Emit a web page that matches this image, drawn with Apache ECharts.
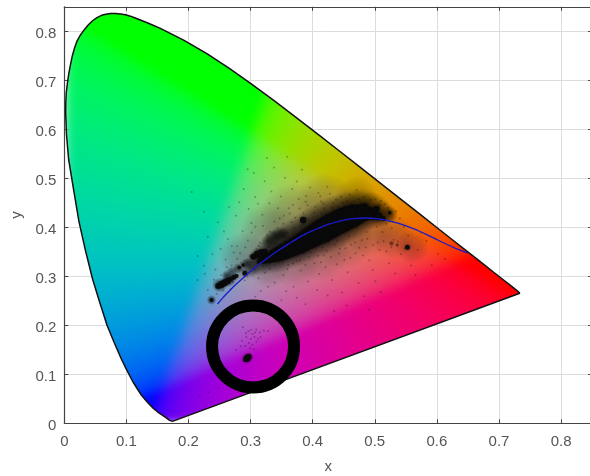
<!DOCTYPE html>
<html>
<head>
<meta charset="utf-8">
<style>
html,body{margin:0;padding:0;background:#fff;overflow:hidden}
#chart{width:590px;height:476px;filter:blur(0.55px)}
</style>
<script src="https://cdn.jsdelivr.net/npm/echarts@6/dist/echarts.min.js"></script>
</head>
<body>
<div id="chart"></div>
<script>
var axisTicks = [0,0.1,0.2,0.3,0.4,0.5,0.6,0.7,0.8];

// spectral locus, closed by the purple line
var locus = [[0.1741,0.0040],[0.1733,0.0038],[0.1714,0.0041],[0.1689,0.0065],[0.1644,0.0109],[0.1566,0.0177],[0.1500,0.0235],[0.1440,0.0297],[0.1345,0.0420],[0.1241,0.0578],[0.1170,0.0715],[0.1096,0.0868],[0.1005,0.1090],[0.0913,0.1327],[0.0800,0.1660],[0.0687,0.2007],[0.0570,0.2470],[0.0454,0.2950],[0.0340,0.3530],[0.0235,0.4127],[0.0150,0.4770],[0.0070,0.5384],[0.0035,0.5900],[0.0022,0.6350],[0.0024,0.6548],[0.0031,0.6737],[0.0050,0.6936],[0.0073,0.7140],[0.0100,0.7320],[0.0130,0.7502],[0.0165,0.7658],[0.0205,0.7800],[0.0258,0.7920],[0.0322,0.8033],[0.0385,0.8130],[0.0455,0.8215],[0.0526,0.8280],[0.0600,0.8326],[0.0672,0.8350],[0.0743,0.8362],[0.0822,0.8364],[0.0903,0.8355],[0.0984,0.8337],[0.1065,0.8309],[0.1142,0.8272],[0.1345,0.8170],[0.1547,0.8059],[0.1929,0.7816],[0.2296,0.7543],[0.2658,0.7243],[0.3016,0.6923],[0.3373,0.6589],[0.3731,0.6245],[0.4087,0.5896],[0.4441,0.5547],[0.4788,0.5202],[0.5125,0.4866],[0.5448,0.4544],[0.5752,0.4242],[0.6029,0.3965],[0.6270,0.3725],[0.6482,0.3514],[0.6658,0.3340],[0.6915,0.3083],[0.7079,0.2920],[0.7190,0.2809],[0.7260,0.2740],[0.7300,0.2700],[0.7335,0.2655],[0.1741,0.0040]];

// blue curve
var planckian = [[0.2468,0.2435],[0.2560,0.2570],[0.2680,0.2730],[0.2807,0.2884],[0.2952,0.3048],[0.3100,0.3210],[0.3260,0.3360],[0.3451,0.3530],[0.3650,0.3690],[0.3850,0.3840],[0.4053,0.3960],[0.4250,0.4060],[0.4450,0.4130],[0.4650,0.4175],[0.4860,0.4190],[0.5060,0.4170],[0.5267,0.4120],[0.5480,0.4040],[0.5700,0.3930],[0.5920,0.3800],[0.6130,0.3670],[0.6320,0.3560],[0.6490,0.3480]];

// dense dark band, [x, y, weight]
var band = [[0.314,0.330,5],[0.322,0.334,8],[0.330,0.338,11],[0.338,0.342,13],[0.346,0.346,15],[0.354,0.350,16],[0.362,0.355,17],[0.370,0.360,18],[0.378,0.365,19],[0.386,0.371,20],[0.394,0.377,21],[0.402,0.383,22],[0.410,0.389,23],[0.418,0.394,24],[0.426,0.400,24],[0.434,0.406,24],[0.442,0.411,24],[0.450,0.416,24],[0.458,0.420,23],[0.466,0.424,22],[0.474,0.427,19],[0.482,0.429,16],[0.490,0.429,13],[0.498,0.426,11],[0.506,0.422,8],[0.514,0.418,5],
[0.2479,0.2802,6],[0.2530,0.2835,7],[0.2580,0.2870,7],[0.2630,0.2905,6.5],[0.2680,0.2945,5],[0.2730,0.2980,5],[0.2774,0.3006,4],[0.2908,0.3060,5],[0.2820,0.3180,3.5],[0.2880,0.3230,3.5],[0.3042,0.3401,6],[0.3110,0.3440,8],[0.3170,0.3470,8],[0.3230,0.3503,6],[0.2372,0.2516,4],[0.3847,0.4149,6.5],[0.4839,0.4421,7],[0.5027,0.4373,6.5],[0.5242,0.4299,3.5],[0.5526,0.3591,5],[0.2945,0.1326,7],[0.2970,0.1360,6],[0.2920,0.1300,5]];

// soft fog around the clusters, [x, y, weight]
var fog = [[0.2613,0.3027,10],[0.2700,0.3090,11],[0.2800,0.3160,11],[0.2935,0.3264,11],[0.3284,0.3707,15],[0.3360,0.3790,16],[0.3440,0.3850,15],[0.3525,0.3877,13],[0.2500,0.2820,15],[0.2650,0.2930,15],[0.2370,0.2516,10],[0.3000,0.3180,20],[0.3150,0.3300,28],[0.3300,0.3400,36],[0.3450,0.3500,42],[0.3600,0.3600,46],[0.3750,0.3700,48],[0.3900,0.3800,50],[0.4050,0.3900,52],[0.4200,0.4000,54],[0.4350,0.4100,54],[0.4500,0.4190,52],[0.4650,0.4280,50],[0.4800,0.4350,44],[0.4950,0.4340,38],[0.5100,0.4280,28],[0.5230,0.4260,18],[0.5268,0.3673,6],[0.5360,0.3639,4.5]];

// wide faint haze, [x, y, weight]
var haze = [[0.2900,0.3400,50],[0.3300,0.3900,60],[0.3700,0.4200,70],[0.4200,0.4500,60],[0.4700,0.4600,44],[0.3300,0.3200,44],[0.3700,0.3350,56],[0.4100,0.3550,64],[0.4500,0.3750,60],[0.4900,0.3900,50],[0.5300,0.3800,44],[0.5600,0.3600,34]];

// sparse specks around the two clusters
var specks = [[0.2312,0.2724],[0.2873,0.3921],[0.3441,0.4387],[0.2598,0.3342],[0.4121,0.4633],[0.2727,0.3487],[0.3189,0.4256],[0.2434,0.3138],[0.3672,0.4781],[0.2956,0.3733],[0.3384,0.4117],[0.2681,0.2741],[0.3917,0.4452],[0.3074,0.4618],[0.2519,0.3561],[0.3553,0.5012],[0.2843,0.3278],[0.4236,0.4826],[0.3261,0.3842],[0.2249,0.3217],[0.3718,0.4198],[0.3012,0.4089],[0.2762,0.4235],[0.4459,0.4621],[0.3336,0.4731],[0.2906,0.2912],[0.3829,0.5174],[0.3147,0.3684],[0.2634,0.3763],[0.4022,0.4297],[0.3491,0.4629],[0.2387,0.3451],[0.3226,0.4942],[0.2819,0.4511],[0.4327,0.4501],[0.3613,0.4389],[0.3093,0.3552],[0.2571,0.3914],[0.3775,0.4577],[0.2968,0.4372],[0.4183,0.4388],[0.3302,0.4491],[0.2696,0.3219],[0.3958,0.4812],[0.3436,0.3991],[0.2147,0.3412],[0.3051,0.5108],[0.4554,0.4529],[0.3663,0.4103],[0.2888,0.4783],[0.4076,0.4148],[0.3198,0.4027],[0.2474,0.4105],[0.3851,0.4289],[0.3377,0.5221],[0.2784,0.3612],[0.4278,0.4687],[0.3534,0.4236],[0.2993,0.3409],[0.2251,0.4318],[0.3742,0.4936],[0.3119,0.4482],[0.4408,0.4415],[0.2654,0.4412],[0.3988,0.4041],[0.3408,0.3821],[0.2053,0.4721],[0.3592,0.5438],[0.4743,0.4573],[0.3263,0.5412],[0.2952,0.5183],[0.2311,0.3806],[0.4628,0.4492],[0.3896,0.4641],[0.3017,0.3895],[0.4135,0.4524],
[0.3312,0.3153],[0.3745,0.3312],[0.4207,0.3184],[0.3528,0.3027],[0.4689,0.3472],[0.3921,0.2893],[0.4436,0.3562],[0.3129,0.2961],[0.4912,0.3328],[0.3606,0.3236],[0.4178,0.3427],[0.3387,0.2874],[0.4563,0.3083],[0.3854,0.3498],[0.5048,0.3689],[0.3231,0.3068],[0.4312,0.2927],[0.3692,0.2788],[0.4791,0.3736],[0.4028,0.3264],[0.3456,0.3312],[0.4512,0.3338],[0.5187,0.3512],[0.3807,0.3119],[0.4253,0.3701],[0.3574,0.2693],[0.4967,0.3127],[0.4103,0.3047],[0.3281,0.2789],[0.4738,0.2864],[0.3939,0.3392],[0.5124,0.3902],[0.4387,0.3248],[0.3652,0.3418],[0.4856,0.3591],[0.3163,0.2702],[0.4469,0.2671],[0.5306,0.3742],[0.4072,0.2721],[0.3743,0.2563],[0.4621,0.3649],[0.5012,0.2898],[0.3498,0.2512],[0.4241,0.2608],[0.4832,0.2592],[0.5231,0.3268],[0.3884,0.2432],[0.5419,0.3457],[0.4546,0.2403],[0.5093,0.2672],[0.3076,0.2582],[0.5538,0.3833],[0.3367,0.2325],[0.4347,0.2287],[0.5328,0.3056],[0.4908,0.2318],[0.5691,0.3536],[0.5832,0.3721],[0.5583,0.3218],[0.6021,0.3462],[0.5467,0.4013],[0.5749,0.3891],[0.5918,0.3228],[0.6126,0.3351],[0.5276,0.3988],[0.5656,0.3027],
[0.3561,0.3718],[0.3287,0.3603],[0.3982,0.3916],[0.3148,0.3412],[0.4431,0.4291],[0.3703,0.3982],[0.4197,0.4173],[0.3424,0.3548],[0.4672,0.4418],[0.3839,0.4063],[0.3016,0.3291],[0.4058,0.4078],[0.4914,0.4487],[0.3582,0.3891],[0.4329,0.4338],[0.2867,0.3119],[0.5073,0.4462],[0.3772,0.3853],[0.4563,0.4362],[0.3265,0.3726],[0.5216,0.4398],[0.4144,0.4272],[0.3488,0.3647],[0.2753,0.3035],[0.4786,0.4491],[0.5341,0.4329],[0.3927,0.4182],[0.3064,0.3147],[0.4491,0.3912],[0.3628,0.3376],[0.4012,0.3631],[0.4718,0.3988],[0.3841,0.3476],[0.5032,0.4012],[0.4276,0.3782],[0.3356,0.3337],[0.5183,0.4071],[0.3731,0.3567],[0.4583,0.3811],[0.3192,0.3203],[0.4157,0.3591],[0.4867,0.3906],[0.5293,0.4112],[0.3467,0.3412],[0.4398,0.3718],[0.2948,0.2998],[0.3903,0.3662],[0.5402,0.4187],
[0.2876,0.1962],[0.2964,0.1881],[0.3031,0.1823],[0.3092,0.1912],[0.3148,0.1853],[0.3214,0.1894],[0.2931,0.1762],[0.3004,0.1718],[0.3063,0.1763],[0.3121,0.1724],[0.2862,0.1683],[0.2972,0.1641],[0.3027,0.1603],[0.3094,0.1662],[0.2841,0.1572],[0.2913,0.1584],[0.2991,0.1533],[0.3052,0.1504],[0.3163,0.1761],[0.3282,0.1883],[0.2762,0.1502],[0.2924,0.1841],[0.3072,0.1852],[0.3006,0.1904],
[0.2624,0.0853],[0.2481,0.0724],[0.2182,0.0551],[0.2323,0.0634],[0.2146,0.2924],[0.2262,0.3053],
[0.3131,0.3618],[0.3077,0.4012],[0.3246,0.3553],[0.3312,0.3911],[0.3395,0.3662],[0.3527,0.4071],[0.3469,0.4183],[0.3628,0.4281],[0.3702,0.3812],[0.3684,0.4461],[0.3801,0.4029],[0.3789,0.4382],[0.3943,0.4136],[0.3886,0.4523],[0.4043,0.4419],[0.4092,0.4702],[0.4167,0.4487],[0.4212,0.4271],[0.4309,0.4392],[0.4376,0.4562],[0.4483,0.4498],[0.4522,0.4412],[0.4594,0.4671],[0.4667,0.4538],[0.4708,0.4761],[0.4823,0.4612],[0.4931,0.4562],[0.5012,0.4571],[0.5102,0.4539],[0.5164,0.4471],[0.3218,0.3362],[0.3384,0.3224],[0.3517,0.3293],[0.3592,0.3148],[0.3683,0.3261],[0.3798,0.3327],[0.3883,0.3234],[0.3967,0.3487],[0.4088,0.3419],[0.4134,0.3286],[0.4226,0.3523],[0.4293,0.3392],[0.4358,0.3647],[0.4421,0.3466],[0.4528,0.3573],[0.4607,0.3378],[0.4682,0.3692],[0.4749,0.3583],[0.4813,0.3427],[0.4882,0.3768],[0.4971,0.3632],[0.5074,0.3541],[0.5143,0.3716],[0.5267,0.3594],[0.5372,0.3712],[0.5481,0.3568],[0.2786,0.3353],[0.2832,0.3472],[0.2698,0.3614],[0.2914,0.3591],[0.2618,0.3187],[0.2527,0.3023],[0.2411,0.2928],[0.2456,0.2639],[0.2563,0.2712],[0.2715,0.2886]];

// annotation ring centre
var ringCentre = [[0.3040,0.1566]];

function fillColor(x, y) {
  var X = x / y, Y = 1, Z = (1 - x - y) / y;
  var r = 3.2406*X - 1.5372*Y - 0.4986*Z;
  var g = -0.9689*X + 1.8758*Y + 0.0415*Z;
  var b = 0.0557*X - 0.2040*Y + 1.0570*Z;
  r = Math.max(r, 0); g = Math.max(g, 0); b = Math.max(b, 0);
  var s = (0.85 * (r + g + b) + 0.15 * Math.max(r, g, b)) || 1;
  function gam(v){ v = v / s; return 255 * (v <= 0.0031308 ? 12.92*v : 1.055*Math.pow(v, 1/2.4) - 0.055); }
  return [gam(r), gam(g), gam(b)];
}

var AXMAX = 0.85, RES = 560;
function buildFill() {
  var src = document.createElement('canvas');
  src.width = src.height = RES;
  var c = src.getContext('2d');
  var img = c.createImageData(RES, RES);
  for (var j = 0; j < RES; j++) {
    for (var i = 0; i < RES; i++) {
      var x = (i + 0.5) / RES * AXMAX, y = (1 - (j + 0.5) / RES) * AXMAX;
      var col = fillColor(x, y), k = (j * RES + i) * 4;
      img.data[k] = col[0]; img.data[k+1] = col[1]; img.data[k+2] = col[2]; img.data[k+3] = 255;
    }
  }
  c.putImageData(img, 0, 0);
  var out = document.createElement('canvas');
  out.width = out.height = RES;
  var o = out.getContext('2d');
  o.beginPath();
  locus.forEach(function (p, n) {
    var px = p[0] / AXMAX * RES, py = (1 - p[1] / AXMAX) * RES;
    if (n) o.lineTo(px, py); else o.moveTo(px, py);
  });
  o.closePath(); o.clip();
  o.filter = 'blur(6px)';
  o.drawImage(src, 0, 0);
  return out;
}
var fillCanvas = buildFill();

function softBlob(alpha){
  return new echarts.graphic.RadialGradient(0.5,0.5,0.5,[
    {offset:0,color:'rgba(0,0,0,'+alpha+')'},
    {offset:0.55,color:'rgba(0,0,0,'+(alpha*0.6)+')'},
    {offset:1,color:'rgba(0,0,0,0)'}]);
}

var labelFont = {color:'#555', fontSize:15, fontFamily:'"Liberation Sans", Arial, sans-serif'};
function tickFmt(v){ return v === 0 ? '0' : String(+v.toFixed(1)); }

var chart = echarts.init(document.getElementById('chart'), null, {renderer:'canvas'});
chart.setOption({
  animation:false,
  backgroundColor:'#fff',
  grid:{left:64.3, top:6.8, width:527.8, height:416.5, outerBoundsMode:'none'},
  xAxis:[
   {type:'value', min:0, max:AXMAX, interval:0.1, position:'bottom',
    name:'x', nameLocation:'middle', nameGap:36, nameTextStyle:labelFont,
    axisLine:{show:true,onZero:false,lineStyle:{color:'#444',width:1.2}},
    axisTick:{show:true,inside:true,length:4,lineStyle:{color:'#444'}},
    axisLabel:Object.assign({margin:11,formatter:tickFmt,showMaxLabel:false},labelFont),
    splitLine:{show:true,lineStyle:{color:'#dcdcdc',width:1}}},
   {type:'value', min:0, max:AXMAX, interval:0.1, position:'top',
    axisLine:{show:true,onZero:false,lineStyle:{color:'#444',width:1.2}},
    axisTick:{show:true,inside:true,length:4,lineStyle:{color:'#444'}},
    axisLabel:{show:false}, splitLine:{show:false}}
  ],
  yAxis:[
   {type:'value', min:0, max:AXMAX, interval:0.1, position:'left',
    name:'y', nameLocation:'middle', nameGap:38, nameTextStyle:labelFont,
    axisLine:{show:true,onZero:false,lineStyle:{color:'#444',width:1.2}},
    axisTick:{show:true,inside:true,length:4,lineStyle:{color:'#444'}},
    axisLabel:Object.assign({margin:8,formatter:tickFmt,showMaxLabel:false,verticalAlign:'top',lineHeight:5},labelFont),
    splitLine:{show:true,lineStyle:{color:'#dcdcdc',width:1}}},
   {type:'value', min:0, max:AXMAX, interval:0.1, position:'right',
    axisLine:{show:true,onZero:false,lineStyle:{color:'#444',width:1.2}},
    axisTick:{show:true,inside:true,length:4,lineStyle:{color:'#444'}},
    axisLabel:{show:false}, splitLine:{show:false}}
  ],
  series:[
   {name:'fill', type:'custom', coordinateSystem:'cartesian2d', silent:true, clip:false, z:2,
    data:[[0,AXMAX]],
    renderItem:function(params, api){
      var a = api.coord([0,AXMAX]), b = api.coord([AXMAX,0]);
      return {type:'image', style:{image:fillCanvas, x:a[0], y:a[1], width:b[0]-a[0], height:b[1]-a[1]}};
    }},
   {name:'haze', type:'scatter', z:3, silent:true, data:haze, symbolSize:function(d){return d[2];},
    itemStyle:{color:softBlob(0.28)}},
   {name:'specks', type:'scatter', z:3, silent:true, data:specks, symbolSize:2,
    itemStyle:{color:'#000',opacity:0.28}},
   {name:'fog', type:'scatter', z:3, silent:true, data:fog, symbolSize:function(d){return d[2];},
    itemStyle:{color:softBlob(0.7)}},
   {name:'band', type:'scatter', z:4, silent:true, data:band, symbolSize:function(d){return d[2];},
    itemStyle:{color:'#0a0a0a',opacity:0.95,shadowBlur:3,shadowColor:'rgba(0,0,0,0.6)'}},
   {name:'locus', type:'line', z:5, silent:true, data:locus, showSymbol:false, symbol:'none', smooth:false,
    lineStyle:{color:'#111',width:1.5}},
   {name:'planckian', type:'line', z:6, silent:true, data:planckian, showSymbol:false, symbol:'none', smooth:true,
    lineStyle:{color:'#1a1ad0',width:1.3}},
   {name:'ring', type:'scatter', z:7, silent:true, data:ringCentre, symbolSize:82,
    itemStyle:{color:'rgba(0,0,0,0)',borderColor:'#000',borderWidth:12,opacity:1}}
  ]
});
</script>
</body>
</html>
